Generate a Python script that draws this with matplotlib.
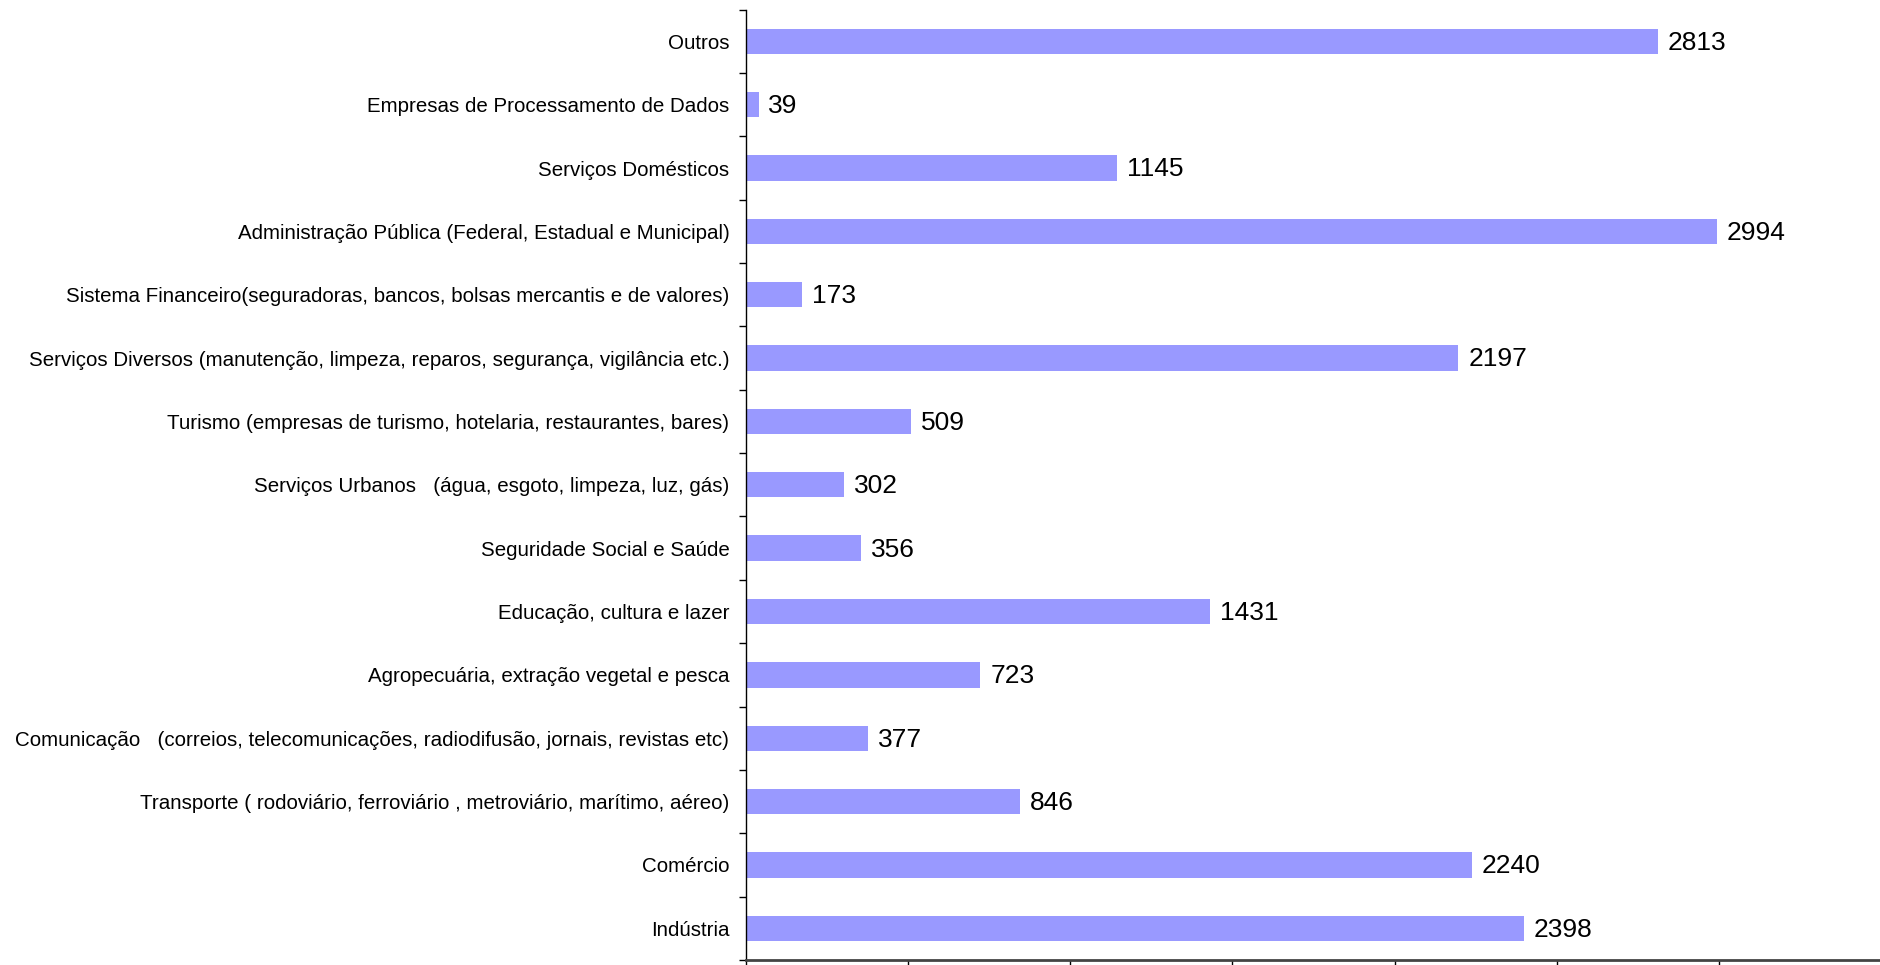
import matplotlib
matplotlib.use("Agg")
import matplotlib.pyplot as plt
import numpy as np

categories = [
    "Indústria",
    "Comércio",
    "Transporte ( rodoviário, ferroviário , metroviário, marítimo, aéreo)",
    "Comunicação   (correios, telecomunicações, radiodifusão, jornais, revistas etc)",
    "Agropecuária, extração vegetal e pesca",
    "Educação, cultura e lazer",
    "Seguridade Social e Saúde",
    "Serviços Urbanos   (água, esgoto, limpeza, luz, gás)",
    "Turismo (empresas de turismo, hotelaria, restaurantes, bares)",
    "Serviços Diversos (manutenção, limpeza, reparos, segurança, vigilância etc.)",
    "Sistema Financeiro(seguradoras, bancos, bolsas mercantis e de valores)",
    "Administração Pública (Federal, Estadual e Municipal)",
    "Serviços Domésticos",
    "Empresas de Processamento de Dados",
    "Outros",
]
values = [2398, 2240, 846, 377, 723, 1431, 356, 302, 509, 2197, 173, 2994, 1145, 39, 2813]

plt.rcParams['font.family'] = ['Liberation Sans', 'DejaVu Sans']

fig = plt.figure(figsize=(18.81, 9.65), dpi=100)
ax = fig.add_axes([746/1881, 1 - 960/965, 1 - 746/1881, (960 - 9.6)/965])

y = np.arange(len(categories))
ax.barh(y, values, height=0.4, color="#9999FF")
for yi, v in zip(y, values):
    ax.annotate(str(v), (v, yi), xytext=(7, -1), textcoords="offset points",
                va="center", ha="left", fontsize=19, color="black")

ax.set_xlim(0, 3500)
ax.set_ylim(-0.5, len(categories) - 0.5)
ax.set_xticks(np.arange(0, 3501, 500))
ax.set_xticklabels([])
ax.set_yticks(np.arange(-0.5, len(categories), 1.0))
ax.set_yticklabels([])
ax.set_yticks(y, minor=True)
ax.set_yticklabels(categories, minor=True, fontsize=14.8)
ax.tick_params(axis="y", which="minor", length=0, pad=12)
ax.tick_params(axis="y", which="major", length=5, width=1, direction="out")
ax.tick_params(axis="x", which="major", length=5, width=1, direction="out")
for s in ["top", "right"]:
    ax.spines[s].set_visible(False)
ax.spines["left"].set_linewidth(1)
ax.spines["bottom"].set_linewidth(2)
ax.spines["bottom"].set_color("#444444")

fig.savefig("out.png", dpi=100)
